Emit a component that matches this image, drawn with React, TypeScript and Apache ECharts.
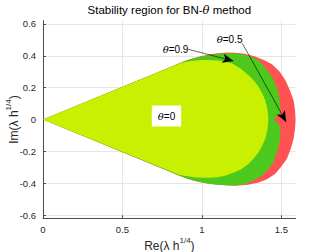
import React, { useEffect, useRef } from 'react';
import * as echarts from 'echarts';

// ---- Data ----
// Boundary of the stability region for theta = 0 (yellow-green)
const theta0Boundary: [number, number][] = [
  [0, 0], [0.86, 0.352], [0.9, 0.362], [0.95, 0.369], [1.0, 0.373], [1.05, 0.374],
  [1.1, 0.371], [1.15, 0.363], [1.19, 0.351], [1.24, 0.322], [1.294, 0.278],
  [1.33, 0.24], [1.357, 0.204], [1.38, 0.163], [1.399, 0.12], [1.41, 0.075],
  [1.416, 0.03], [1.418, 0], [1.416, -0.03], [1.41, -0.075], [1.399, -0.12],
  [1.38, -0.163], [1.357, -0.204], [1.33, -0.24], [1.294, -0.278], [1.25, -0.31],
  [1.21, -0.33], [1.15, -0.352], [1.1, -0.362], [1.05, -0.366], [1.0, -0.366],
  [0.95, -0.362], [0.9, -0.355], [0.86, -0.348], [0, 0],
];
// Boundary for theta = 0.9 (green)
const theta09Boundary: [number, number][] = [
  [0, 0], [0.78, 0.32], [0.85, 0.35], [0.9, 0.369], [0.95, 0.384], [1.0, 0.396],
  [1.05, 0.405], [1.1, 0.411], [1.16, 0.415], [1.22, 0.414], [1.273, 0.405],
  [1.32, 0.39], [1.357, 0.372], [1.4, 0.325], [1.441, 0.267], [1.465, 0.215],
  [1.483, 0.162], [1.492, 0.11], [1.494, 0.07], [1.488, 0.035], [1.452, 0],
  [1.488, -0.035], [1.494, -0.07], [1.493, -0.11], [1.485, -0.162], [1.468, -0.215],
  [1.451, -0.267], [1.42, -0.31], [1.378, -0.351], [1.33, -0.38], [1.273, -0.404],
  [1.22, -0.412], [1.168, -0.414], [1.1, -0.41], [1.05, -0.404], [1.0, -0.395],
  [0.95, -0.383], [0.9, -0.368], [0.85, -0.35], [0.78, -0.32], [0, 0],
];
// Boundary for theta = 0.5 (red)
const theta05Boundary: [number, number][] = [
  [0, 0], [0.78, 0.32], [0.85, 0.35], [0.9, 0.37], [0.95, 0.386], [1.0, 0.399],
  [1.05, 0.409], [1.1, 0.416], [1.16, 0.42], [1.21, 0.419], [1.27, 0.412],
  [1.33, 0.397], [1.39, 0.374], [1.441, 0.346], [1.49, 0.3], [1.525, 0.246],
  [1.555, 0.18], [1.577, 0.12], [1.586, 0.06], [1.589, 0], [1.588, -0.03],
  [1.584, -0.07], [1.577, -0.12], [1.56, -0.18], [1.535, -0.246], [1.5, -0.295],
  [1.462, -0.341], [1.41, -0.375], [1.357, -0.395], [1.29, -0.41], [1.21, -0.415],
  [1.15, -0.413], [1.1, -0.409], [1.05, -0.403], [1.0, -0.395], [0.95, -0.384],
  [0.9, -0.369], [0.85, -0.35], [0.78, -0.32], [0, 0],
];

// Annotation texts (theta values) and their anchor positions in data units
const labelTexts = ['0.9', '0.5', '0'];
const labelX = [0.834, 1.174, 0.777];
const labelY = [0.442, 0.499, 0.022];
const labelBoxed = [false, false, true];

// Annotation arrows: tail -> head, in data units
const arrowFrom: [number, number][] = [[0.914, 0.4405], [1.254, 0.478]];
const arrowTo: [number, number][] = [[1.198, 0.367], [1.53, -0.015]];

// Axis ranges and ticks
const X_MIN = 0;
const X_MAX = 1.59;
const Y_MIN = -0.62;
const Y_MAX = 0.62;
const X_TICK_MAX = 1.5;
const X_TICK_STEP = 0.5;
const Y_TICK_MIN = -0.6;
const Y_TICK_MAX = 0.6;
const Y_TICK_STEP = 0.2;

// ---- Layout ----
const W = 327;
const H = 252;
const PL = 43;
const PR = 295.7;
const PT = 20.7;
const PB = 218.3;

const SANS = 'Liberation Sans, Arial, Helvetica, sans-serif';
const SERIF = 'DejaVu Serif, Liberation Serif, serif';
const AXIS_COLOR = '#4d4d4d';
const TEXT_COLOR = '#262626';
const GRID_COLOR = '#e6e6e6';

const RED = '#ff5252';
const GREEN = '#4dc91d';
const YELLOW = '#c8f000';

function buildOption() {
  const pxX = (PR - PL) / (X_MAX - X_MIN);
  const pxY = (PB - PT) / (Y_MAX - Y_MIN);
  const gbTop = PT + (Y_MAX - Y_TICK_MAX) * pxY;
  const gbBottom = PB - (Y_TICK_MIN - Y_MIN) * pxY;
  const gcRight = PL + (X_TICK_MAX - X_MIN) * pxX;

  const region = (name: string, pts: [number, number][], color: string, z: number) => ({
    type: 'custom',
    name,
    xAxisIndex: 0,
    yAxisIndex: 0,
    z,
    silent: true,
    data: pts,
    encode: { x: 0, y: 1 },
    renderItem: (params: any, api: any) => {
      if (params.dataIndex !== 0) return null;
      return {
        type: 'polygon',
        shape: { points: pts.map((p) => api.coord(p)) },
        style: { fill: color, stroke: null },
      };
    },
  });

  const thetaRich = {
    i: { fontStyle: 'italic', fontFamily: SERIF, fontSize: 10, color: '#000' },
    t: { fontFamily: SANS, fontSize: 10, color: '#000' },
  };

  const supRich = {
    m: { fontFamily: SANS, fontSize: 12, color: TEXT_COLOR, lineHeight: 19 },
    s: { fontFamily: SANS, fontSize: 8, color: TEXT_COLOR, lineHeight: 8, verticalAlign: 'top' },
  };

  return {
    animation: false,
    backgroundColor: '#fff',
    title: {
      text: 'Stability region for BN-{i|θ}{t| method}',
      left: (PL + PR) / 2,
      top: 4,
      padding: 0,
      textAlign: 'center',
      textStyle: {
        fontSize: 11.5,
        fontWeight: 'normal',
        fontFamily: SANS,
        color: '#000',
        rich: {
          i: { fontStyle: 'italic', fontFamily: SERIF, fontSize: 11.5, color: '#000' },
          t: { fontFamily: SANS, fontSize: 11.5, color: '#000' },
        },
      },
    },
    grid: [
      { left: PL, top: PT, width: PR - PL, height: PB - PT, outerBoundsMode: 'none' },
      { left: PL, top: gbTop, width: PR - PL, height: gbBottom - gbTop, outerBoundsMode: 'none' },
      { left: PL, top: PT, width: gcRight - PL, height: PB - PT, outerBoundsMode: 'none' },
    ],
    xAxis: [
      {
        gridIndex: 0,
        type: 'value',
        min: X_MIN,
        max: X_MAX,
        axisLine: { show: true, onZero: false, lineStyle: { color: AXIS_COLOR, width: 1 } },
        axisTick: { show: false },
        axisLabel: { show: false },
        splitLine: { show: false },
        name: '{m|Re(λ h}{s|1/4}{m|)}',
        nameLocation: 'middle',
        nameGap: 18,
        nameTextStyle: { rich: supRich },
      },
      {
        gridIndex: 1,
        type: 'value',
        min: X_MIN,
        max: X_MAX,
        show: false,
      },
      {
        gridIndex: 2,
        type: 'value',
        min: X_MIN,
        max: X_TICK_MAX,
        interval: X_TICK_STEP,
        axisLine: { show: false, onZero: false },
        axisTick: { show: true, inside: true, length: 3, lineStyle: { color: AXIS_COLOR } },
        axisLabel: { show: true, margin: 6, fontSize: 9.5, fontFamily: SANS, color: TEXT_COLOR },
        splitLine: { show: true, lineStyle: { color: GRID_COLOR, width: 1 } },
      },
    ],
    yAxis: [
      {
        gridIndex: 0,
        type: 'value',
        min: Y_MIN,
        max: Y_MAX,
        axisLine: { show: true, onZero: false, lineStyle: { color: AXIS_COLOR, width: 1 } },
        axisTick: { show: false },
        axisLabel: { show: false },
        splitLine: { show: false },
        name: '{m|Im(λ h}{s|1/4}{m|)}',
        nameLocation: 'middle',
        nameRotate: 90,
        nameGap: 20,
        nameTextStyle: { rich: supRich },
      },
      {
        gridIndex: 1,
        type: 'value',
        min: Y_TICK_MIN,
        max: Y_TICK_MAX,
        interval: Y_TICK_STEP,
        axisLine: { show: false, onZero: false },
        axisTick: { show: true, inside: true, length: 3, lineStyle: { color: AXIS_COLOR } },
        axisLabel: { show: true, margin: 7, fontSize: 9.5, fontFamily: SANS, color: TEXT_COLOR },
        splitLine: { show: true, lineStyle: { color: GRID_COLOR, width: 1 } },
      },
      {
        gridIndex: 2,
        type: 'value',
        min: Y_MIN,
        max: Y_MAX,
        show: false,
      },
    ],
    series: [
      region('θ=0.5', theta05Boundary, RED, 2),
      region('θ=0.9', theta09Boundary, GREEN, 3),
      region('θ=0', theta0Boundary, YELLOW, 4),
      {
        type: 'scatter',
        xAxisIndex: 0,
        yAxisIndex: 0,
        z: 10,
        silent: true,
        symbolSize: 0,
        itemStyle: { opacity: 1 },
        data: labelTexts.map((t, i) => ({
          value: [labelX[i], labelY[i]],
          name: t,
          label: labelBoxed[i]
            ? { backgroundColor: '#ffffff', padding: [6, 6, 5, 6], opacity: 1 }
            : { opacity: 1 },
        })),
        label: {
          show: true,
          position: 'inside',
          opacity: 1,
          formatter: (p: any) => `{i|θ}{t|=${p.name}}`,
          rich: thetaRich,
        },
        markLine: {
          silent: true,
          symbol: ['none', 'arrow'],
          symbolSize: [7, 11],
          lineStyle: { color: '#000', width: 0.6, type: 'solid', opacity: 1 },
          label: { show: false },
          emphasis: { disabled: true },
          data: arrowFrom.map((f, i) => [{ coord: f }, { coord: arrowTo[i] }]),
        },
      },
    ],
  };
}

export default function App() {
  const ref = useRef<HTMLDivElement>(null);
  useEffect(() => {
    document.body.style.margin = '0';
    const chart = echarts.init(ref.current as HTMLDivElement, undefined, { renderer: 'svg' });
    chart.setOption(buildOption() as any);
    return () => chart.dispose();
  }, []);
  return <div ref={ref} style={{ width: W, height: H }} />;
}
